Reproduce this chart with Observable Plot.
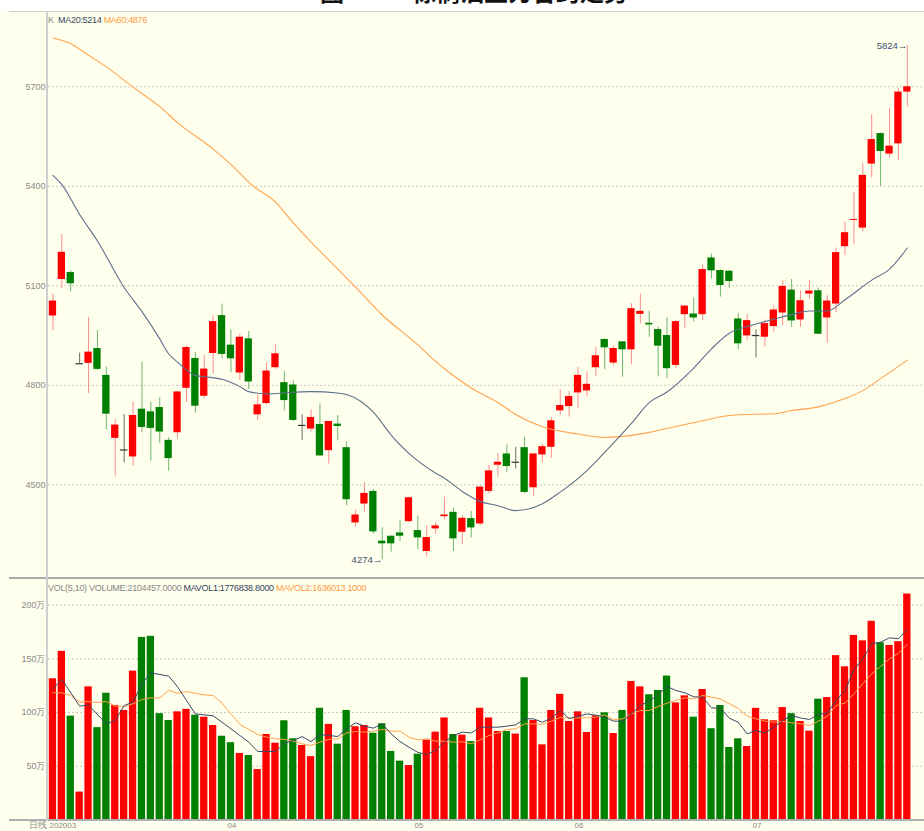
<!DOCTYPE html>
<html>
<head>
<meta charset="utf-8">
<script src="https://cdn.jsdelivr.net/npm/d3@7"></script>
<script src="https://cdn.jsdelivr.net/npm/@observablehq/plot@0.6"></script>
<style>
  html, body { margin: 0; padding: 0; background: #ffffff; }
  #wrap { position: relative; width: 924px; height: 831px; overflow: hidden; background: #ffffff;
          font-family: "Liberation Sans", Arial, sans-serif; }
  #title { position: absolute; left: 0; top: -21px; width: 924px; height: 32px; overflow: hidden;
           font-family: "Noto Sans CJK SC", sans-serif; font-weight: bold; font-size: 24px; line-height: 24px; color: #111; }
  #title span { position: absolute; white-space: nowrap; }
  #panel { position: absolute; left: 0; top: 11px; width: 924px; height: 820px; background: #FFFFEE; }
  .hline { position: absolute; left: 9px; width: 915px; }
  .svgbox { position: absolute; left: 0; }
  .lbl { position: absolute; left: 48px; font-size: 9px; letter-spacing: -0.3px; white-space: nowrap; line-height: 12px; }
</style>
</head>
<body>
<div id="wrap">
  <div id="title"><span style="left:320px">图</span><span style="left:412px">棕榈油主力合约走势</span></div>
  <div id="panel"></div>
  <div class="hline" style="top:11px;height:1px;background:#cfd3bd"></div>
  <div id="price" class="svgbox" style="top:11px"></div>
  <div id="vol" class="svgbox" style="top:579px"></div>
  <div class="hline" style="top:577px;height:2px;background:#a9a9a9"></div>
  <div class="hline" style="top:819px;height:2px;background:#b0b0b0"></div>
  <div style="position:absolute;left:46px;top:11px;width:2px;height:810px;background:#cfcfcf"></div>
  <div class="lbl" style="top:14px"><span style="color:#888">K</span>&nbsp;&nbsp;<span style="color:#34445f">MA20:5214</span>&nbsp;<span style="color:#ff9a3c">MA60:4876</span></div>
  <div class="lbl" style="top:582px"><span style="color:#888">VOL(5,10)&nbsp;VOLUME:2104457.0000</span>&nbsp;<span style="color:#34445f">MAVOL1:1776838.8000</span>&nbsp;<span style="color:#ff9a3c">MAVOL2:1636013.1000</span></div>
</div>
<script>
// ---------- data ----------
const open  = [5009,5119,5140,4865,4866,4911,4830,4640,4605,4584,4728,4720,4733,4634,4657,4791,4881,4767,4896,5010,
               4921,4837,4940,4711,4745,4853,4808,4801,4679,4668,4682,4603,4683,4612,4385,4442,4480,4330,4345,4355,
               4389,4362,4299,4367,4404,4417,4357,4398,4382,4480,4559,4593,4568,4612,4491,4590,4613,4723,4736,4777,
               4783,4853,4938,4867,4931,4907,5014,4987,4968,4950,4860,5013,5015,5013,5184,5146,5144,5000,4949,4950,
               4945,4977,5018,5087,4997,5075,5085,5003,5045,5218,5297,5274,5467,5559,5497,5528,5684];
const high  = [5075,5255,5145,4897,5005,4965,4855,4697,4712,4750,4870,4748,4763,4642,4780,4919,4900,4889,5010,5045,
               4967,4954,4962,4770,4867,4922,4841,4814,4711,4726,4744,4691,4709,4630,4423,4507,4486,4371,4345,4392,
               4463,4406,4376,4386,4463,4430,4407,4420,4498,4559,4595,4620,4613,4643,4593,4623,4702,4786,4781,4854,
               4841,4914,4940,4919,4931,5046,5076,5023,4975,5004,4995,5039,5063,5163,5195,5148,5146,5016,5014,4967,
               4997,5039,5115,5119,5085,5115,5093,5070,5214,5293,5381,5468,5616,5561,5634,5694,5824];
const low   = [4965,5092,5082,4865,4775,4845,4665,4527,4566,4557,4657,4571,4624,4541,4638,4748,4716,4761,4835,4880,
               4838,4815,4787,4695,4740,4848,4723,4691,4633,4659,4587,4563,4633,4437,4372,4418,4351,4274,4297,4329,
               4385,4304,4282,4352,4394,4299,4320,4340,4377,4473,4523,4536,4548,4473,4466,4566,4580,4709,4704,4729,
               4766,4827,4847,4858,4824,4862,4985,4945,4825,4820,4852,4970,4991,4995,5121,5066,5091,4908,4935,4882,
               4915,4960,4980,4975,4975,5059,4954,4927,5019,5191,5224,5262,5425,5400,5485,5478,5639];
const close = [5054,5201,5106,4865,4900,4848,4713,4680,4605,4709,4673,4670,4659,4579,4780,4914,4737,4849,4992,4893,
               4880,4945,4810,4741,4843,4895,4754,4694,4679,4703,4587,4691,4676,4455,4409,4474,4358,4322,4322,4345,
               4461,4340,4341,4376,4409,4337,4399,4370,4493,4542,4568,4555,4568,4477,4593,4615,4693,4739,4766,4830,
               4803,4889,4913,4911,4907,5031,5023,4982,4918,4850,4992,5039,5003,5149,5145,5101,5113,4925,4995,4950,
               4986,5027,5098,4994,5055,5084,4954,5054,5200,5260,5300,5433,5541,5505,5521,5684,5700];
// volume, in 万 (10k lots)
const volume = [131.5,157,96.7,26,124,86,118,106.6,102,138.6,
                170,171,99,92.6,100.7,103,97.6,95.7,88,78,
                72,62,60,47,79.6,71.5,92.4,75.6,69.4,59,
                104,89,70.6,102,86.8,88,80.8,89.6,63.8,54.8,
                50.7,61.3,74.3,81.8,95,79.6,79,73,104,95,
                82.4,82.4,80,132.4,92.6,70,102,117,91.7,100.7,
                81.5,97,99.8,80.5,102,129,124,116.6,120.6,134,
                109,115.6,95.7,121.5,85,106.6,67.5,75.6,68.4,104,
                93.3,92.4,104.7,99,91.7,82.7,112.5,114,153,142.6,
                171.8,166.8,185,165,162.5,166,210.4];
// moving-average lines: [bar index, value]
const ma20 = [[0,5433],[1,5405],[3,5315],[5,5235],[8,5095],[10,5022],[12,4940],[13,4895],[14,4870],[16,4830],
              [17,4826],[19,4818],[21,4796],[22,4781],[24,4774],[27,4779],[29,4781],[32,4777],[33,4772],[36,4719],
              [38,4650],[41,4572],[43,4535],[44,4520],[46,4480],[48,4450],[50,4437],[52,4422],[55,4443],[57,4478],
              [60,4543],[62,4598],[65,4685],[67,4748],[69,4780],[72,4852],[74,4910],[76,4957],[78,4977],[81,4999],
              [83,5013],[85,5024],[87,5024],[89,5058],[92,5117],[94,5150],[96,5214]];
const ma60 = [[0,5847],[2,5830],[4,5795],[6,5760],[9,5699],[12,5640],[14,5592],[18,5512],[21,5440],[22,5412],
              [25,5352],[27,5290],[32,5150],[34,5096],[37,5012],[41,4922],[43,4872],[44,4850],[47,4792],[50,4748],
              [52,4712],[55,4675],[59,4653],[62,4643],[65,4649],[67,4658],[70,4676],[73,4693],[75,4705],[77,4711],
              [81,4714],[83,4724],[86,4735],[89,4760],[91,4784],[93,4820],[96,4876]];
const mavol1 = [[0,122],[1,131],[3,106],[4,107],[6,89.5],[7,92.6],[8,106.6],[9,109.7],[10,126.8],[11,137],
                [13,134],[14,124],[16,98.8],[18,97],[19,91],[20,84.9],[22,72.5],[23,63.8],[25,63.8],[26,71.5],
                [27,74],[28,77.7],[29,73],[30,79.6],[31,78.7],[32,77.7],[33,84.9],[34,90.5],[35,87.4],[36,85.5],
                [37,89.5],[38,80.2],[39,73],[40,67.8],[41,63],[42,61],[43,64.7],[44,72.5],[45,78.7],[46,81.8],
                [47,81],[48,86.4],[49,86.4],[50,86.4],[51,87.4],[52,88.6],[53,94.2],[54,94.2],[55,91],[56,94.8],
                [57,102],[58,94.5],[59,96.4],[60,98.8],[61,97.6],[62,95.7],[63,92],[64,92],[65,98.8],[66,106.6],
                [67,110.6],[68,116.8],[69,124.3],[70,120.6],[71,118.4],[72,114.7],[73,114.4],[74,104.4],[75,104],[76,94.8],
                [77,91],[78,80.2],[79,83.3],[80,81],[81,86.4],[82,92.6],[83,97.3],[84,95],[85,93.6],[86,98.2],
                [87,99.5],[88,111.3],[89,120.6],[90,139.8],[91,150],[92,164],[93,165.6],[94,169.6],[95,168.7],[96,177.7]];
const mavol2 = [[0,118.4],[1,118.4],[2,115.9],[3,109.7],[4,110.3],[5,109.4],[6,110.3],[7,106],[8,105.7],[9,108.2],
                [10,112.2],[11,113.7],[12,113.7],[13,120.6],[14,118],[15,119.6],[16,118],[17,116.5],[18,115.9],[19,108.8],
                [20,98.8],[21,88.9],[22,84.3],[23,79.6],[24,77.1],[25,75.6],[26,75],[27,73.4],[28,70.9],[29,69.4],
                [30,72.5],[31,75],[32,75.6],[33,81.1],[34,82.4],[35,81.8],[36,82.7],[37,84.3],[38,82.7],[39,82.7],
                [40,77.1],[41,74.6],[42,75.6],[43,73.4],[44,73.4],[45,72.5],[46,72.8],[47,70.9],[48,74.6],[49,78.7],
                [50,81.1],[51,84.3],[52,84.9],[53,89.5],[54,89.5],[55,88.9],[56,92],[57,95.4],[58,94.8],[59,95.1],
                [60,95.1],[61,95.7],[62,97.9],[63,93.3],[64,94.2],[65,98.8],[66,101.9],[67,101.9],[68,105.7],[69,108.8],
                [70,111.3],[71,113.7],[72,112.8],[73,115.9],[74,114.4],[75,112.8],[76,108.2],[77,104.1],[78,96.7],[79,94.2],
                [80,92],[81,91.1],[82,91.7],[83,90.5],[84,89.5],[85,88],[86,92],[87,96.4],[88,106.6],[89,108.8],
                [90,117.5],[91,126.8],[92,136],[93,143],[94,150],[95,155.3],[96,163.6]];
const priceTicks = [4500, 4800, 5100, 5400, 5700];
const volTicks = [50, 100, 150, 200];
const monthLabels = ["202003", "04", "05", "06", "07"];
const monthStart = [0, 20, 41, 59, 79];
const periodLabel = "日线";

// ---------- build ----------
const N = open.length;
const bars = d3.range(N).map(i => ({i, o: open[i], h: high[i], l: low[i], c: close[i], v: volume[i],
  dir: close[i] > open[i] ? "up" : close[i] < open[i] ? "down" : "flat"}));
const xDomain = [-0.5, 97.93];
const wickCol = {up: "#ff8c8c", down: "#6fb86f", flat: "#6a6a6a"};
const bodyCol = {up: "#ff0000", down: "#008000", flat: "#333333"};
const volCol = d => d.c >= d.o ? "#ff0000" : "#008000";
const font = "Liberation Sans, Arial, sans-serif";
const hiBar = bars.reduce((a, b) => b.h > a.h ? b : a);
const loBar = bars.reduce((a, b) => b.l < a.l ? b : a);

const price = Plot.plot({
  width: 924, height: 567,
  marginLeft: 48, marginRight: 0, marginTop: 0, marginBottom: 0,
  style: {background: "transparent", fontFamily: font, overflow: "visible"},
  x: {domain: xDomain, axis: null},
  y: {domain: [4217.5, 5927], axis: null},
  marks: [
    Plot.ruleY(priceTicks, {x1: xDomain[0], x2: xDomain[1], stroke: "#c9c9c0", strokeDasharray: "2,2"}),
    Plot.axisY({ticks: priceTicks, tickSize: 0, tickPadding: 3, fontSize: 9, color: "#8a8a8a", label: null, tickFormat: d => String(d)}),
    Plot.ruleX(bars, {x: "i", y1: "l", y2: "h", stroke: d => wickCol[d.dir], strokeWidth: 1}),
    Plot.rect(bars.filter(d => d.dir !== "flat"), {x1: d => d.i - 0.5, x2: d => d.i + 0.5, y1: "o", y2: "c",
      fill: d => bodyCol[d.dir], insetLeft: 0.8, insetRight: 0.8}),
    Plot.ruleY(bars.filter(d => d.dir === "flat"), {y: "o", x1: d => d.i - 0.42, x2: d => d.i + 0.42, stroke: "#333", strokeWidth: 1.2}),
    Plot.line(ma60, {x: d => d[0], y: d => d[1], stroke: "#ffa34d", strokeWidth: 1.1, curve: "monotone-x"}),
    Plot.line(ma20, {x: d => d[0], y: d => d[1], stroke: "#5d708c", strokeWidth: 1.1, curve: "monotone-x"}),
    Plot.text([hiBar], {x: "i", y: "h", text: d => d.h + "→", textAnchor: "end", fontSize: 9.5, fill: "#3d4f6e"}),
    Plot.text([loBar], {x: "i", y: "l", text: d => d.l + "→", textAnchor: "end", fontSize: 9.5, fill: "#3d4f6e"})
  ]
});
document.getElementById("price").appendChild(price);

const vol = Plot.plot({
  width: 924, height: 252,
  marginLeft: 48, marginRight: 0, marginTop: 0, marginBottom: 11.5,
  style: {background: "transparent", fontFamily: font, overflow: "visible"},
  x: {domain: xDomain, axis: null},
  y: {domain: [0, 223.9], axis: null},
  marks: [
    Plot.ruleY(volTicks, {x1: xDomain[0], x2: xDomain[1], stroke: "#c9c9c0", strokeDasharray: "2,2"}),
    Plot.axisY({ticks: volTicks, tickSize: 0, tickPadding: 3, fontSize: 9, color: "#8a8a8a", label: null, tickFormat: d => d + "万"}),
    Plot.rect(bars, {x1: d => d.i - 0.5, x2: d => d.i + 0.5, y1: 0, y2: "v", fill: volCol, insetLeft: 0.8, insetRight: 0.8}),
    Plot.line(mavol2, {x: d => d[0], y: d => d[1], stroke: "#ffa34d", strokeWidth: 1}),
    Plot.line(mavol1, {x: d => d[0], y: d => d[1], stroke: "#3a4a66", strokeWidth: 1}),
    Plot.text(monthLabels.map((t, k) => ({t, i: monthStart[k]})), {x: d => d.i - 0.5, text: "t", frameAnchor: "bottom",
      textAnchor: "start", lineAnchor: "top", dx: 1, dy: 2, fontSize: 8, fill: "#8a8a8a"}),
    Plot.text([periodLabel], {frameAnchor: "bottom-left", textAnchor: "start", lineAnchor: "top", dx: -20, dy: 2, fontSize: 9, fill: "#8a8a8a"})
  ]
});
document.getElementById("vol").appendChild(vol);
</script>
</body>
</html>
